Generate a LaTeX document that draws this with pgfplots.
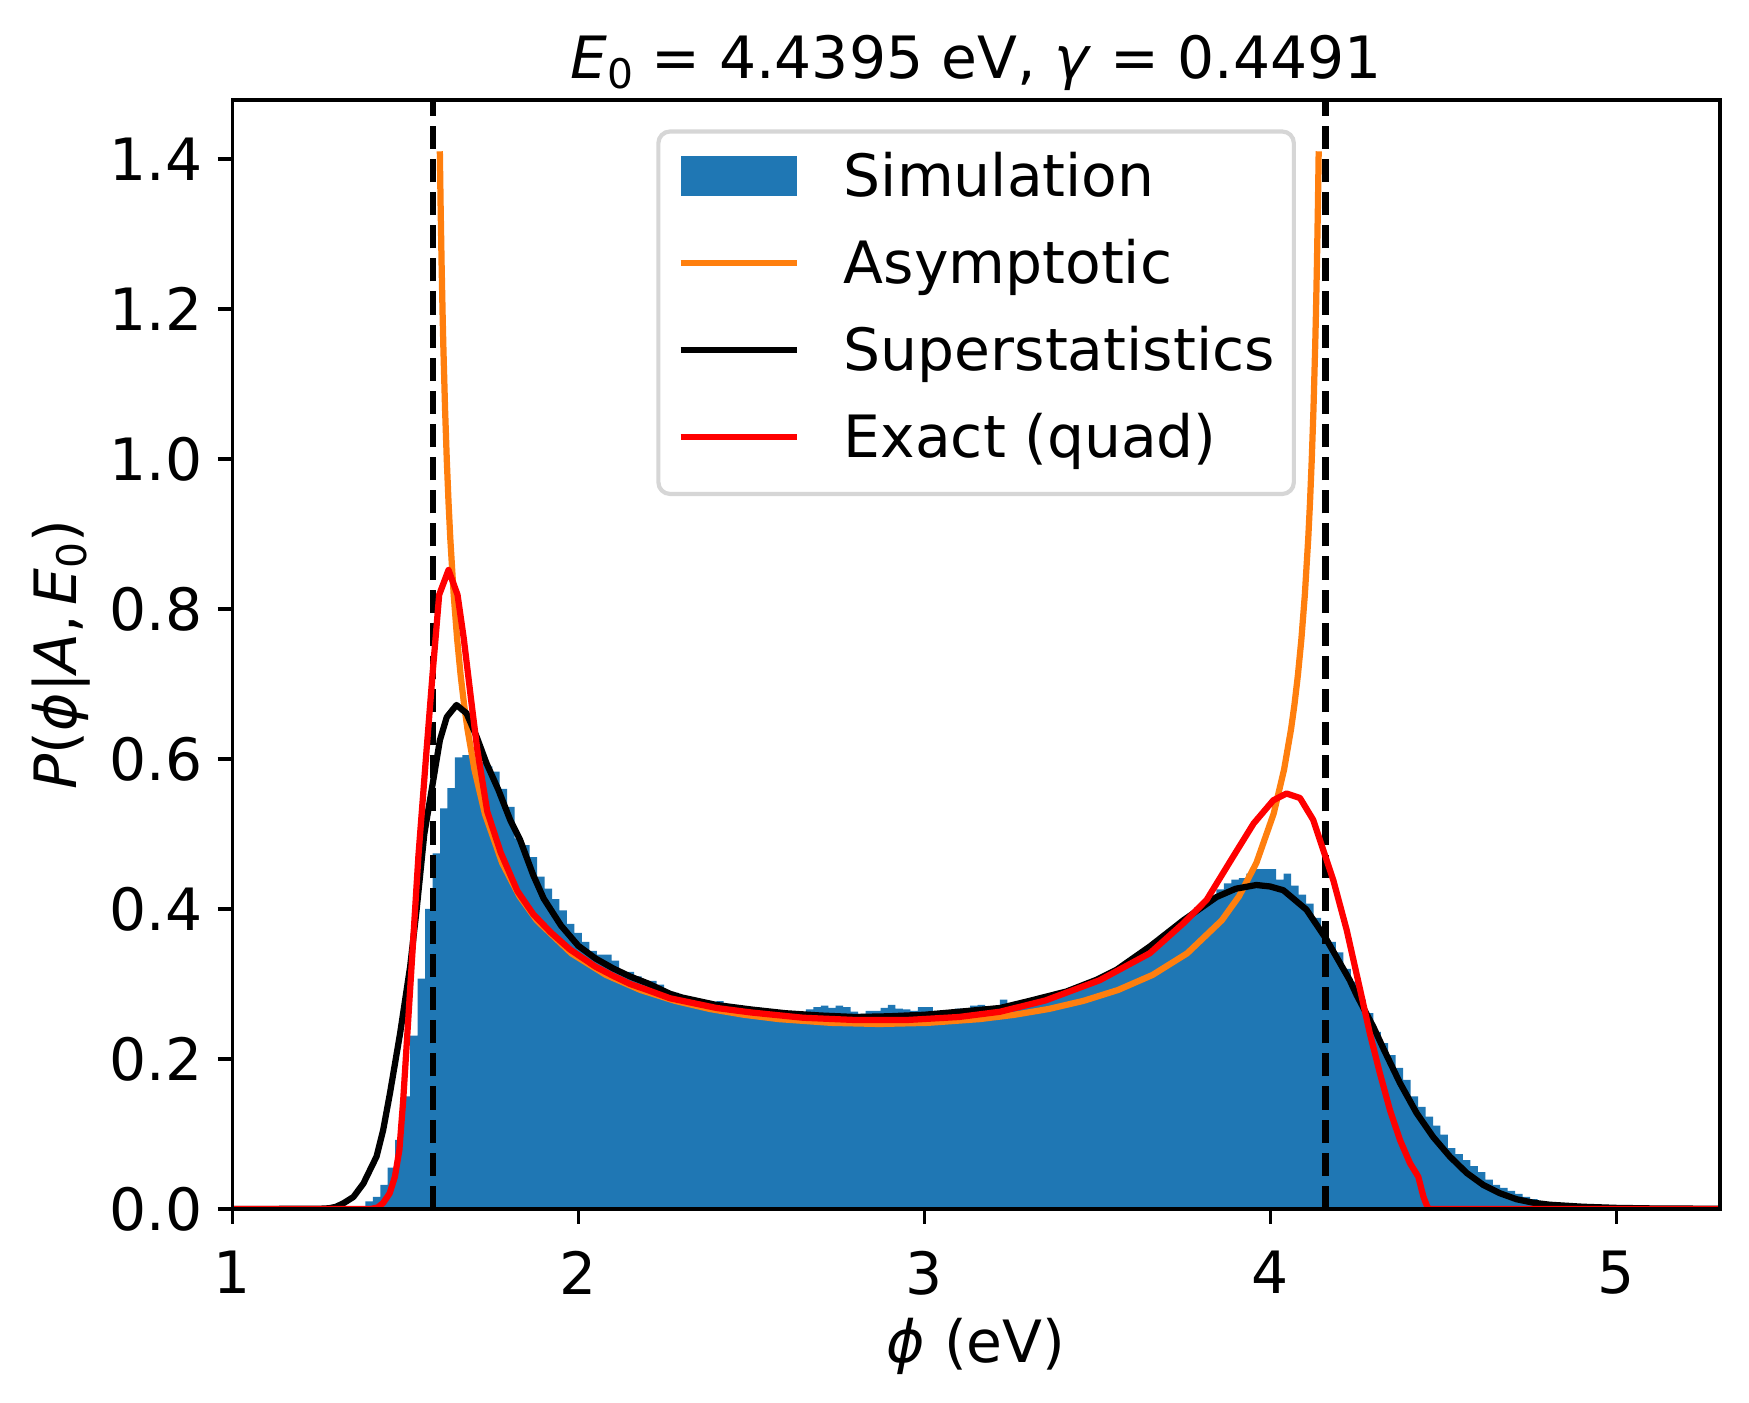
\documentclass[border=0pt]{standalone}
\usepackage{fontspec}
\setmainfont{DejaVu Sans}
\usepackage{pgfplots}
\pgfplotsset{compat=1.18}
\definecolor{tabblue}{HTML}{1F77B4}
\definecolor{taborange}{HTML}{FF7F0E}
\definecolor{legframe}{HTML}{D6D6D6}
\newcommand{\sub}[1]{\raisebox{-0.18em}{\fontsize{9.8}{10}\selectfont #1}}
\begin{document}
\begin{tikzpicture}
\begin{axis}[
  scale only axis, width=357.05pt, height=266.16pt,
  xmin=1, xmax=5.3, ymin=0, ymax=1.4787,
  axis on top,
  font=\fontsize{14}{16.8}\selectfont,
  every tick label/.append style={font=\fontsize{14}{16.8}\selectfont},
  /pgf/number format/assume math mode=true,
  axis line style={line width=0.8pt},
  tick style={line width=0.8pt, black},
  major tick length=3.5pt,
  tick align=outside,
  tick pos=left,
  xtick={1,2,3,4,5},
  ytick={0,0.2,0.4,0.6,0.8,1.0,1.2,1.4},
  y tick label style={/pgf/number format/fixed, /pgf/number format/fixed zerofill, /pgf/number format/precision=1, inner sep=0pt, anchor=east, xshift=-3.5pt},
  x tick label style={inner sep=0pt, anchor=north, yshift=-6.4pt},
  xlabel={\textit{ϕ} (eV)},
  ylabel={\textit{P}(\textit{ϕ}|\textit{A},\,\textit{E}\sub{0})},
  title={\textit{E}\sub{0} = 4.4395 eV, \textit{γ} = 0.4491},
  x label style={at={(axis description cs:0.5,0)}, anchor=base, yshift=-36.8pt, inner sep=0pt},
  y label style={at={(axis description cs:-0.1050,0.5)}, anchor=base, rotate=0, inner sep=0pt},
  title style={at={(axis description cs:0.5,1)}, anchor=base, yshift=-0.8pt, inner sep=0pt},
  legend style={at={(0.5,1)}, anchor=north, yshift=-7.56pt, draw=legframe, line width=1pt,
    rounded corners=2.8pt, fill=white, inner xsep=4.6pt, inner ysep=5.2pt, outer sep=0pt,
    row sep=7pt, column sep=10.4pt, font=\fontsize{14}{16.8}\selectfont,
    cells={anchor=base west},
    nodes={inner sep=0pt, text height=10.4pt, text depth=3.5pt}},
]
\addplot[const plot, fill=tabblue, draw=none,
  legend image code/.code={\fill[tabblue, sharp corners] (0pt,0.2pt) rectangle (28pt,9.8pt);}]
coordinates {
(1.3846,0.010) (1.4062,0.016) (1.4278,0.032) (1.4493,0.055) (1.4709,0.092) (1.4925,0.150) (1.5141,0.231) (1.5357,0.307) (1.5572,0.400) (1.5788,0.474) (1.6004,0.534) (1.6220,0.561) (1.6436,0.602) (1.6651,0.605) (1.6867,0.600) (1.7083,0.596) (1.7299,0.590) (1.7515,0.583) (1.7730,0.560) (1.7946,0.536) (1.8162,0.494) (1.8378,0.485) (1.8594,0.469) (1.8809,0.443) (1.9025,0.427) (1.9241,0.413) (1.9457,0.398) (1.9673,0.380) (1.9888,0.368) (2.0104,0.356) (2.0320,0.344) (2.0536,0.339) (2.0752,0.339) (2.0967,0.331) (2.1183,0.315) (2.1399,0.316) (2.1615,0.310) (2.1831,0.304) (2.2046,0.304) (2.2262,0.299) (2.2478,0.290) (2.2694,0.288) (2.2910,0.281) (2.3125,0.281) (2.3341,0.276) (2.3557,0.274) (2.3773,0.272) (2.3989,0.277) (2.4204,0.270) (2.4420,0.268) (2.4636,0.269) (2.4852,0.265) (2.5068,0.268) (2.5283,0.264) (2.5499,0.263) (2.5715,0.263) (2.5931,0.262) (2.6147,0.263) (2.6362,0.261) (2.6578,0.266) (2.6794,0.269) (2.7010,0.271) (2.7226,0.268) (2.7441,0.271) (2.7657,0.269) (2.7873,0.263) (2.8089,0.260) (2.8305,0.264) (2.8520,0.264) (2.8736,0.268) (2.8952,0.272) (2.9168,0.267) (2.9384,0.266) (2.9599,0.264) (2.9815,0.269) (3.0031,0.269) (3.0247,0.261) (3.0463,0.265) (3.0678,0.262) (3.0894,0.267) (3.1110,0.265) (3.1326,0.271) (3.1542,0.272) (3.1757,0.265) (3.1973,0.268) (3.2189,0.279) (3.2405,0.272) (3.2621,0.274) (3.2836,0.276) (3.3052,0.277) (3.3268,0.281) (3.3484,0.283) (3.3700,0.286) (3.3915,0.290) (3.4131,0.292) (3.4347,0.296) (3.4563,0.300) (3.4779,0.305) (3.4994,0.309) (3.5210,0.314) (3.5426,0.319) (3.5642,0.325) (3.5858,0.332) (3.6073,0.339) (3.6289,0.346) (3.6505,0.352) (3.6721,0.359) (3.6937,0.366) (3.7152,0.377) (3.7368,0.386) (3.7584,0.392) (3.7800,0.402) (3.8016,0.410) (3.8231,0.418) (3.8447,0.426) (3.8663,0.434) (3.8879,0.439) (3.9095,0.441) (3.9310,0.447) (3.9526,0.453) (3.9742,0.453) (3.9958,0.453) (4.0174,0.439) (4.0389,0.447) (4.0605,0.431) (4.0821,0.419) (4.1037,0.407) (4.1253,0.388) (4.1468,0.374) (4.1684,0.356) (4.1900,0.342) (4.2116,0.320) (4.2332,0.303) (4.2547,0.279) (4.2763,0.261) (4.2979,0.236) (4.3195,0.221) (4.3411,0.205) (4.3626,0.188) (4.3842,0.172) (4.4058,0.150) (4.4274,0.136) (4.4490,0.123) (4.4705,0.111) (4.4921,0.099) (4.5137,0.081) (4.5353,0.073) (4.5569,0.065) (4.5784,0.057) (4.6000,0.049) (4.6216,0.039) (4.6432,0.032) (4.6648,0.028) (4.6863,0.024) (4.7079,0.020) (4.7295,0.016) (4.7511,0.013) (4.7727,0.010) (4.7942,0.007) (4.8158,0.005) (4.8374,0.003) (4.8590,0.002) (4.8806,0.001) (4.9021,0.001)
} \closedcycle;
\addlegendentry{Simulation}
\addplot[forget plot, black, line width=1.5pt, dash pattern=on 5.55pt off 2.4pt] coordinates {(1.58,0) (1.58,1.5)};
\addplot[forget plot, black, line width=1.5pt, dash pattern=on 5.55pt off 2.4pt] coordinates {(4.16,0) (4.16,1.5)};
\addplot[taborange, line width=1.5pt, line join=round,
  legend image code/.code={\draw[taborange, line width=1.5pt, sharp corners] (0pt,4.9pt) -- (28pt,4.9pt);}]
coordinates {
(1.5999,1.4103) (1.602,1.3418) (1.605,1.2594) (1.608,1.1908) (1.610,1.1508) (1.615,1.0665) (1.620,0.9986) (1.625,0.9424) (1.630,0.8950) (1.640,0.8186) (1.650,0.7594) (1.660,0.7118) (1.670,0.6724) (1.680,0.6392) (1.700,0.5859) (1.730,0.5272) (1.780,0.4614) (1.830,0.4171) (1.880,0.3849) (1.980,0.3409) (2.080,0.3121) (2.180,0.2920) (2.280,0.2775) (2.380,0.2667) (2.480,0.2589) (2.580,0.2532) (2.730,0.2482) (2.870,0.2467) (3.010,0.2482) (3.160,0.2532) (3.260,0.2589) (3.360,0.2667) (3.460,0.2775) (3.560,0.2920) (3.660,0.3121) (3.760,0.3409) (3.860,0.3849) (3.910,0.4171) (3.960,0.4614) (4.010,0.5272) (4.040,0.5859) (4.060,0.6392) (4.070,0.6724) (4.080,0.7118) (4.090,0.7594) (4.100,0.8186) (4.110,0.8950) (4.115,0.9424) (4.120,0.9986) (4.125,1.0665) (4.130,1.1508) (4.132,1.1908) (4.135,1.2594) (4.138,1.3418) (4.1401,1.4103)
};
\addlegendentry{Asymptotic}
\addplot[black, line width=1.5pt, line join=round,
  legend image code/.code={\draw[black, line width=1.5pt, sharp corners] (0pt,4.9pt) -- (28pt,4.9pt);}]
coordinates {
(1.0,0) (1.25,0.0003) (1.28,0.001) (1.30,0.003) (1.321,0.0076) (1.35,0.016) (1.379,0.034) (1.398,0.052) (1.417,0.070) (1.436,0.105) (1.456,0.155) (1.485,0.234) (1.514,0.323) (1.533,0.40) (1.555,0.50) (1.581,0.572) (1.600,0.625) (1.620,0.656) (1.648,0.672) (1.677,0.661) (1.706,0.630) (1.735,0.594) (1.769,0.559) (1.803,0.519) (1.832,0.492) (1.87,0.445) (1.90,0.414) (1.95,0.378) (2.00,0.351) (2.05,0.334) (2.10,0.321) (2.15,0.310) (2.20,0.301) (2.265,0.287) (2.30,0.282) (2.40,0.272) (2.50,0.266) (2.60,0.261) (2.70,0.258) (2.80,0.256) (2.90,0.257) (3.00,0.259) (3.10,0.263) (3.219,0.268) (3.30,0.277) (3.411,0.290) (3.50,0.306) (3.556,0.319) (3.652,0.350) (3.749,0.385) (3.845,0.416) (3.90,0.427) (3.960,0.432) (4.00,0.430) (4.038,0.425) (4.105,0.399) (4.163,0.359) (4.230,0.305) (4.250,0.285) (4.298,0.243) (4.327,0.214) (4.375,0.168) (4.423,0.128) (4.471,0.096) (4.519,0.070) (4.568,0.048) (4.616,0.032) (4.664,0.021) (4.712,0.013) (4.760,0.0084) (4.808,0.0057) (4.904,0.003) (5.0,0.0015) (5.1,0.0008) (5.3,0.0003)
};
\addlegendentry{Superstatistics}
\addplot[red, line width=1.5pt, line join=round,
  legend image code/.code={\draw[red, line width=1.5pt, sharp corners] (0pt,4.9pt) -- (28pt,4.9pt);}]
coordinates {
(1.0,0) (1.40,0) (1.42,0.002) (1.436,0.008) (1.455,0.021) (1.47,0.043) (1.483,0.079) (1.494,0.145) (1.515,0.30) (1.538,0.471) (1.560,0.603) (1.579,0.714) (1.598,0.819) (1.625,0.852) (1.651,0.819) (1.669,0.761) (1.69,0.68) (1.708,0.613) (1.737,0.530) (1.776,0.475) (1.824,0.424) (1.87,0.393) (1.92,0.369) (1.976,0.346) (2.05,0.323) (2.10,0.311) (2.15,0.300) (2.20,0.292) (2.265,0.281) (2.40,0.268) (2.50,0.262) (2.65,0.255) (2.80,0.252) (2.95,0.252) (3.10,0.256) (3.219,0.263) (3.35,0.278) (3.507,0.305) (3.652,0.341) (3.749,0.381) (3.816,0.412) (3.893,0.470) (3.952,0.514) (4.009,0.545) (4.047,0.554) (4.086,0.548) (4.124,0.519) (4.153,0.479) (4.182,0.439) (4.221,0.372) (4.262,0.288) (4.288,0.234) (4.317,0.181) (4.346,0.132) (4.375,0.092) (4.404,0.061) (4.428,0.043) (4.443,0.016) (4.454,0.003) (4.46,0) (5.3,0)
};
\addlegendentry{Exact (quad)}
\coordinate (SW) at (rel axis cs:0,0);
\coordinate (NE) at (rel axis cs:1,1);
\end{axis}
\pgfresetboundingbox
\path[use as bounding box] ([shift={(-55.75pt,-46.56pt)}]SW) rectangle ([shift={(6.96pt,24pt)}]NE);
\end{tikzpicture}
\end{document}
